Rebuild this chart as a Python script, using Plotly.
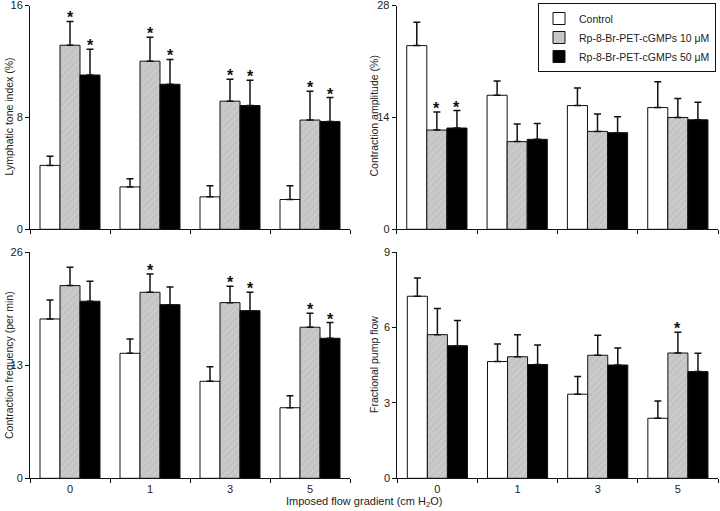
import plotly.graph_objects as go
from plotly.subplots import make_subplots

categories = ["0", "1", "3", "5"]
series_names = ["Control", "Rp-8-Br-PET-cGMPs 10 μM", "Rp-8-Br-PET-cGMPs 50 μM"]

# Lymphatic tone index (%)
tone_mean = [[4.57, 3.03, 2.32, 2.13], [13.16, 12.02, 9.16, 7.81], [11.03, 10.37, 8.85, 7.71]]
tone_err = [[0.66, 0.59, 0.80, 0.99], [1.70, 1.71, 1.56, 2.06], [1.84, 1.77, 1.80, 1.71]]
tone_sig = [[False] * 4, [True] * 4, [True] * 4]

# Contraction amplitude (%)
amp_mean = [[22.98, 16.77, 15.48, 15.23], [12.42, 10.97, 12.25, 13.99], [12.67, 11.26, 12.09, 13.70]]
amp_err = [[2.92, 1.78, 2.20, 3.23], [2.24, 2.20, 2.16, 2.36], [2.19, 1.99, 1.99, 2.20]]
amp_sig = [[False] * 4, [True, False, False, False], [True, False, False, False]]

# Contraction frequency (per min)
freq_mean = [[18.33, 14.38, 11.16, 8.12], [22.17, 21.40, 20.21, 17.38], [20.37, 19.98, 19.29, 16.11]]
freq_err = [[2.17, 1.65, 1.68, 1.39], [2.11, 2.11, 1.88, 1.61], [2.30, 2.03, 2.11, 1.80]]
freq_sig = [[False] * 4, [False, True, True, True], [False, False, True, True]]

# Fractional pump flow
pump_mean = [[7.25, 4.65, 3.35, 2.39], [5.72, 4.84, 4.90, 4.99], [5.28, 4.53, 4.51, 4.25]]
pump_err = [[0.73, 0.70, 0.70, 0.69], [1.04, 0.88, 0.80, 0.83], [1.00, 0.78, 0.68, 0.73]]
pump_sig = [[False] * 4, [False, False, False, True], [False] * 4]

y_titles = ["Lymphatic tone index (%)", "Contraction amplitude (%)",
            "Contraction frequency (per min)", "Fractional pump flow"]
y_ticks = [[0, 8, 16], [0, 14, 28], [0, 13, 26], [0, 3, 6, 9]]
x_title = "Imposed flow gradient (cm H<sub>2</sub>O)"

fills = ["#ffffff", "#c8c8c8", "#000000"]
offsets = [-0.25, 0.0, 0.25]

panels = [
    (tone_mean, tone_err, tone_sig, 1, 1),
    (amp_mean, amp_err, amp_sig, 1, 2),
    (freq_mean, freq_err, freq_sig, 2, 1),
    (pump_mean, pump_err, pump_sig, 2, 2),
]

W, H = 720, 511
fig = make_subplots(rows=2, cols=2)

FAM = "Liberation Sans, Arial, sans-serif"
font = dict(family=FAM, size=11, color="#222")

for pi, (means, errs, sigs, r, c) in enumerate(panels):
    for si in range(3):
        pattern = None
        if si == 1:
            pattern = dict(shape="/", fgcolor="#d8d8d8", bgcolor="#c4c4c4", size=5, solidity=0.3)
        fig.add_trace(go.Bar(
            x=categories, y=means[si], name=series_names[si],
            marker=dict(color=fills[si], line=dict(color="#111", width=1), pattern=pattern),
            error_y=dict(type="data", symmetric=False, array=errs[si], arrayminus=[0] * 4,
                         color="#111", thickness=1.5, width=3.5),
            showlegend=(pi == 1), legendgroup=str(si),
        ), row=r, col=c)
        # significance asterisks
        for ci in range(4):
            if sigs[si][ci]:
                axn = "" if pi == 0 else str(pi + 1)
                fig.add_annotation(x=ci + offsets[si], y=means[si][ci] + errs[si][ci],
                                   xref="x" + axn, yref="y" + axn, text="<b>*</b>",
                                   showarrow=False, yanchor="bottom", yshift=-7,
                                   font=dict(family=FAM, size=16, color="#111"))

# domains (pixel-derived)
dom = {
    1: ([30 / W, 350 / W], [(H - 229.3) / H, (H - 5.5) / H]),
    2: ([396.7 / W, 718 / W], [(H - 229.3) / H, (H - 5.5) / H]),
    3: ([30 / W, 350 / W], [(H - 478.3) / H, (H - 252.3) / H]),
    4: ([397.3 / W, 718 / W], [(H - 478.3) / H, (H - 252.3) / H]),
}
for k in range(1, 5):
    xd, yd = dom[k]
    xa = "xaxis" if k == 1 else f"xaxis{k}"
    ya = "yaxis" if k == 1 else f"yaxis{k}"
    fig.layout[xa].update(domain=xd, showline=True, linecolor="#111", linewidth=1,
                          ticks="outside", tickson="boundaries", ticklen=4, tickcolor="#111",
                          showgrid=False, showticklabels=(k >= 3), tickfont=font,
                          range=[-0.5, 3.5], zeroline=False, automargin=False)
    ymax = y_ticks[k - 1][-1]
    fig.layout[ya].update(domain=yd, showline=True, linecolor="#111", linewidth=1,
                          ticks="outside", ticklen=4, tickcolor="#111", showgrid=False,
                          tickvals=y_ticks[k - 1], range=[0, ymax], tickfont=font,
                          zeroline=False, automargin=False, ticklabeloverflow="allow")

# y-axis titles as annotations
ytitle_pos = [(9, 116.5), (374, 116.5), (9, 365), (374, 365)]
for (px, py), t in zip(ytitle_pos, y_titles):
    fig.add_annotation(x=px / W, y=1 - py / H, xref="paper", yref="paper", text=t,
                       textangle=-90, showarrow=False, font=dict(family=FAM, size=10.5, color="#222"),
                       xanchor="center", yanchor="middle")

fig.add_annotation(x=364 / W, y=1 - 502 / H, xref="paper", yref="paper", text=x_title,
                   showarrow=False, font=font, xanchor="center", yanchor="middle")

fig.update_layout(
    width=W, height=H, margin=dict(l=0, r=0, t=0, b=0, autoexpand=False),
    paper_bgcolor="white", plot_bgcolor="white",
    barmode="group", bargap=0.25, bargroupgap=0,
    font=font,
    legend=dict(x=716 / W, y=1 - 3 / H, xanchor="right", yanchor="top",
                bordercolor="#111", borderwidth=1, bgcolor="white",
                font=dict(family=FAM, size=10.5, color="#222"),
                tracegroupgap=0, itemwidth=30),
)

fig.write_html("out.html", config={"displayModeBar": False},
               post_script="document.body.style.margin='0';")
